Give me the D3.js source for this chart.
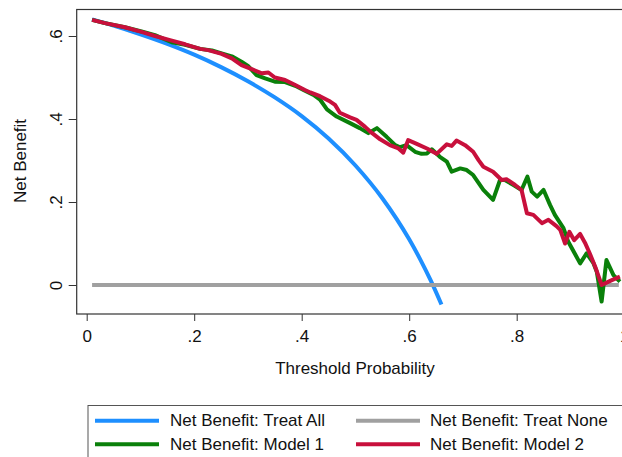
<!DOCTYPE html>
<html>
<head>
<meta charset="utf-8">
<script src="https://cdn.jsdelivr.net/npm/d3@7"></script>
<style>
  body { margin: 0; background: #fff; }
  svg { display: block; font-family: "Liberation Sans", Arial, sans-serif; }
</style>
</head>
<body>
<div id="chart"></div>
<script>
// net benefit curves, [threshold, net benefit]
const treatAll = [
  [0.01, 0.640], [0.05, 0.625], [0.10, 0.604], [0.15, 0.581], [0.20, 0.555],
  [0.25, 0.525], [0.30, 0.491], [0.35, 0.452], [0.40, 0.407], [0.45, 0.353],
  [0.50, 0.288], [0.55, 0.209], [0.60, 0.110], [0.62, 0.063], [0.64, 0.011],
  [0.66, -0.047]
];
const treatNone = [[0.01, 0], [0.99, 0]];
const model1 = [
  [0.010, 0.639], [0.034, 0.631], [0.071, 0.621], [0.102, 0.611], [0.127, 0.602],
  [0.158, 0.585], [0.183, 0.579], [0.211, 0.569], [0.233, 0.565], [0.251, 0.558],
  [0.270, 0.551], [0.288, 0.538], [0.300, 0.528], [0.316, 0.506], [0.332, 0.498],
  [0.350, 0.490], [0.369, 0.489], [0.388, 0.480], [0.406, 0.468], [0.422, 0.458],
  [0.434, 0.447], [0.447, 0.423], [0.465, 0.406], [0.490, 0.390], [0.508, 0.378],
  [0.524, 0.366], [0.540, 0.378], [0.558, 0.357], [0.574, 0.337], [0.583, 0.332],
  [0.595, 0.337], [0.611, 0.321], [0.623, 0.316], [0.633, 0.317], [0.642, 0.327],
  [0.657, 0.309], [0.670, 0.297], [0.679, 0.273], [0.695, 0.281], [0.707, 0.277],
  [0.719, 0.265], [0.738, 0.229], [0.756, 0.205], [0.769, 0.253], [0.778, 0.253],
  [0.794, 0.241], [0.809, 0.229], [0.820, 0.261], [0.828, 0.225], [0.838, 0.213],
  [0.850, 0.229], [0.862, 0.193], [0.871, 0.169], [0.887, 0.137], [0.896, 0.104],
  [0.908, 0.076], [0.918, 0.052], [0.930, 0.076], [0.943, 0.052], [0.949, 0.032],
  [0.958, -0.040], [0.967, 0.060], [0.980, 0.024], [0.992, 0.008]
];
const model2 = [
  [0.010, 0.639], [0.034, 0.631], [0.071, 0.621], [0.102, 0.610], [0.127, 0.600],
  [0.155, 0.590], [0.183, 0.580], [0.211, 0.569], [0.226, 0.566], [0.251, 0.557],
  [0.270, 0.546], [0.288, 0.530], [0.307, 0.520], [0.326, 0.510], [0.338, 0.512],
  [0.350, 0.500], [0.369, 0.494], [0.388, 0.482], [0.406, 0.470], [0.416, 0.464],
  [0.434, 0.455], [0.453, 0.442], [0.462, 0.434], [0.471, 0.415], [0.490, 0.404],
  [0.502, 0.398], [0.518, 0.381], [0.530, 0.367], [0.546, 0.351], [0.564, 0.337],
  [0.580, 0.329], [0.589, 0.319], [0.598, 0.349], [0.614, 0.340], [0.633, 0.329],
  [0.651, 0.316], [0.670, 0.339], [0.679, 0.335], [0.688, 0.348], [0.704, 0.337],
  [0.719, 0.321], [0.729, 0.301], [0.738, 0.285], [0.756, 0.273], [0.772, 0.253],
  [0.781, 0.255], [0.797, 0.241], [0.809, 0.229], [0.819, 0.173], [0.831, 0.169],
  [0.847, 0.149], [0.859, 0.157], [0.874, 0.142], [0.881, 0.133], [0.890, 0.100],
  [0.898, 0.128], [0.907, 0.108], [0.918, 0.123], [0.927, 0.102], [0.936, 0.076],
  [0.946, 0.044], [0.958, 0.000], [0.974, 0.010], [0.992, 0.020]
];

const xTicks = [0, 0.2, 0.4, 0.6, 0.8, 1];
const yTicks = [0, 0.2, 0.4, 0.6];
const seriesNames = [
  "Net Benefit: Treat All", "Net Benefit: Treat None",
  "Net Benefit: Model 1", "Net Benefit: Model 2"
];
const seriesColors = ["#1e8fff", "#a0a0a0", "#0a800a", "#c8103c"];

const width = 622, height = 457;
const frame = { left: 76.7, top: 9.5, bottom: 314, right: 634 };
const fontSize = "17px";

const x = d3.scaleLinear().domain([0, 1]).range([86.7, 624.2]);
const y = d3.scaleLinear().domain([0, 0.6]).range([285, 36]);

const fmt = (d) => d === 0 ? "0" : d === 1 ? "1" : String(d).replace(/^0/, "");

const svg = d3.select("#chart").append("svg")
  .attr("width", width)
  .attr("height", height);

// plot region box
svg.append("rect")
  .attr("x", frame.left)
  .attr("y", frame.top)
  .attr("width", frame.right - frame.left)
  .attr("height", frame.bottom - frame.top)
  .style("fill", "none")
  .style("stroke", "#333")
  .style("stroke-width", 1.2);

const xAxis = svg.append("g")
  .attr("transform", `translate(0, ${frame.bottom})`)
  .call(d3.axisBottom(x).tickValues(xTicks).tickSize(7).tickPadding(5).tickFormat(fmt));
xAxis.select(".domain").remove();
xAxis.selectAll("line").style("stroke", "#333");
xAxis.selectAll("text")
  .style("font-size", fontSize)
  .style("fill", "#111")
  .attr("dy", "0.95em");

const yAxis = svg.append("g")
  .attr("transform", `translate(${frame.left}, 0)`)
  .call(d3.axisLeft(y).tickValues(yTicks).tickSize(8).tickFormat(fmt));
yAxis.select(".domain").remove();
yAxis.selectAll("line").style("stroke", "#333");
yAxis.selectAll("text")
  .attr("x", null).attr("dy", null)
  .attr("text-anchor", "middle")
  .attr("dominant-baseline", "central")
  .attr("transform", "translate(-20.5, 0) rotate(-90)")
  .style("font-size", fontSize)
  .style("fill", "#111");

svg.append("text")
  .attr("x", 355)
  .attr("y", 368)
  .attr("text-anchor", "middle")
  .attr("dominant-baseline", "central")
  .style("font-size", fontSize)
  .style("fill", "#111")
  .text("Threshold Probability");

svg.append("text")
  .attr("transform", "translate(20, 161) rotate(-90)")
  .attr("text-anchor", "middle")
  .attr("dominant-baseline", "central")
  .style("font-size", fontSize)
  .style("fill", "#111")
  .text("Net Benefit");

const line = d3.line().x((d) => x(d[0])).y((d) => y(d[1]));
const allSeries = [treatAll, treatNone, model1, model2];

svg.append("g")
  .selectAll("path")
  .data(allSeries)
  .join("path")
  .attr("d", (d, i) => i === 0 ? line.curve(d3.curveMonotoneX)(d) : line.curve(d3.curveLinear)(d))
  .style("fill", "none")
  .style("stroke", (d, i) => seriesColors[i])
  .style("stroke-width", 4)
  .style("stroke-linejoin", "round");

// legend
const legend = svg.append("g");
legend.append("rect")
  .attr("x", 88)
  .attr("y", 405.5)
  .attr("width", 535)
  .attr("height", 60)
  .style("fill", "#fff")
  .style("stroke", "#555")
  .style("stroke-width", 1);

const legendItems = legend.selectAll("g.item")
  .data(seriesNames)
  .join("g")
  .attr("class", "item")
  .attr("transform", (d, i) => `translate(${i % 2 === 0 ? 95 : 356}, ${i < 2 ? 420.7 : 444.3})`);

legendItems.append("line")
  .attr("x1", 0).attr("x2", 64)
  .style("stroke", (d, i) => seriesColors[i])
  .style("stroke-width", 4);

legendItems.append("text")
  .attr("x", (d, i) => i % 2 === 0 ? 75 : 74)
  .attr("dominant-baseline", "central")
  .style("font-size", fontSize)
  .style("fill", "#111")
  .text((d) => d);
</script>
</body>
</html>
